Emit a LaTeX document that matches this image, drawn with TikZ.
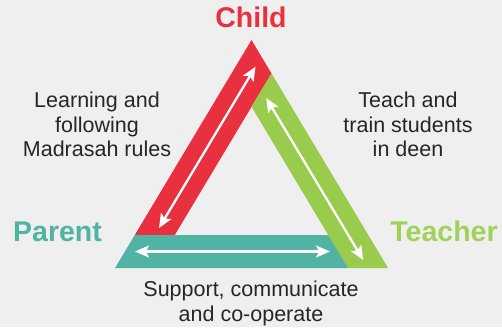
\documentclass[tikz,border=0pt]{standalone}
\usepackage{fontspec}
\setmainfont{Liberation Sans}
\usetikzlibrary{arrows.meta,calc,positioning}
\definecolor{childred}{RGB}{233,48,63}
\definecolor{teachgreen}{RGB}{153,204,76}
\definecolor{teachtext}{RGB}{160,210,90}
\definecolor{parentteal}{RGB}{80,179,164}
\definecolor{bggray}{RGB}{239,239,239}
\tikzstyle{redband}=[fill=childred]
\tikzstyle{greenband}=[fill=teachgreen]
\tikzstyle{tealband}=[fill=parentteal]
\tikzstyle{role}=[inner sep=0pt, font=\fontsize{28.5}{30}\selectfont\bfseries]
\tikzstyle{duty}=[inner sep=0pt, align=center, text=black!85, font=\fontsize{21.5}{24.5}\selectfont]
\tikzset{%
    link/.style={<->,>={Stealth[length=14pt,width=12pt,inset=3pt]},white,line width=2.3pt},
  }

\begin{document}
\begin{tikzpicture}[x=1pt,y=1pt]
    \fill [bggray] (0,0) rectangle (502,327);
    \useasboundingbox (0,0) rectangle (502,327);
    %
    \coordinate (apex) at (251.5,287);
    \coordinate (lft) at (115,59);
    \coordinate (rgt) at (388,59);
    \coordinate (inapex) at (251.5,220.2);
    \coordinate (gtop) at (271.5,253.6);
    \coordinate (rbo) at (134.8,92);
    \coordinate (rbi) at (174.8,92);
    \coordinate (tri) at (328.2,92);
    \coordinate (gbi) at (348,59);
    %
    \fill [redband] (apex) -- (gtop) -- (rbi) -- (rbo) -- cycle;
    \fill [greenband] (gtop) -- (rgt) -- (gbi) -- (inapex) -- cycle;
    \fill [tealband] (rbo) -- (tri) -- (gbi) -- (lft) -- cycle;
    %
    \coordinate (r1) at (255.5,260.3);
    \coordinate (r2) at (159,99);
    \draw [link] (r1) -- (r2);
    \coordinate (g1) at (266.2,229);
    \coordinate (g2) at (363.2,67);
    \draw [link] (g1) -- (g2);
    \coordinate (t1) at (135,75.5);
    \coordinate (t2) at (330,75.5);
    \draw [link] (t1) -- (t2);
    %
    \node (child) [role, text=childred, anchor=south] at (251,299) {Child};
    \node (parent) [role, text=parentteal] at (57.5,95.3) {Parent};
    \node (teacher) [role, text=teachtext] at (444,95.3) {Teacher};
    %
    \node (learn) [duty] at (97,202.4) {Learning and\\following\\Madrasah rules};
    \node (teach) [duty] at (408,202.4) {Teach and\\train students\\in deen};
    \node (support) [duty] at (251,23.8) {Support, communicate\\and co-operate};
  \end{tikzpicture}
\end{document}
